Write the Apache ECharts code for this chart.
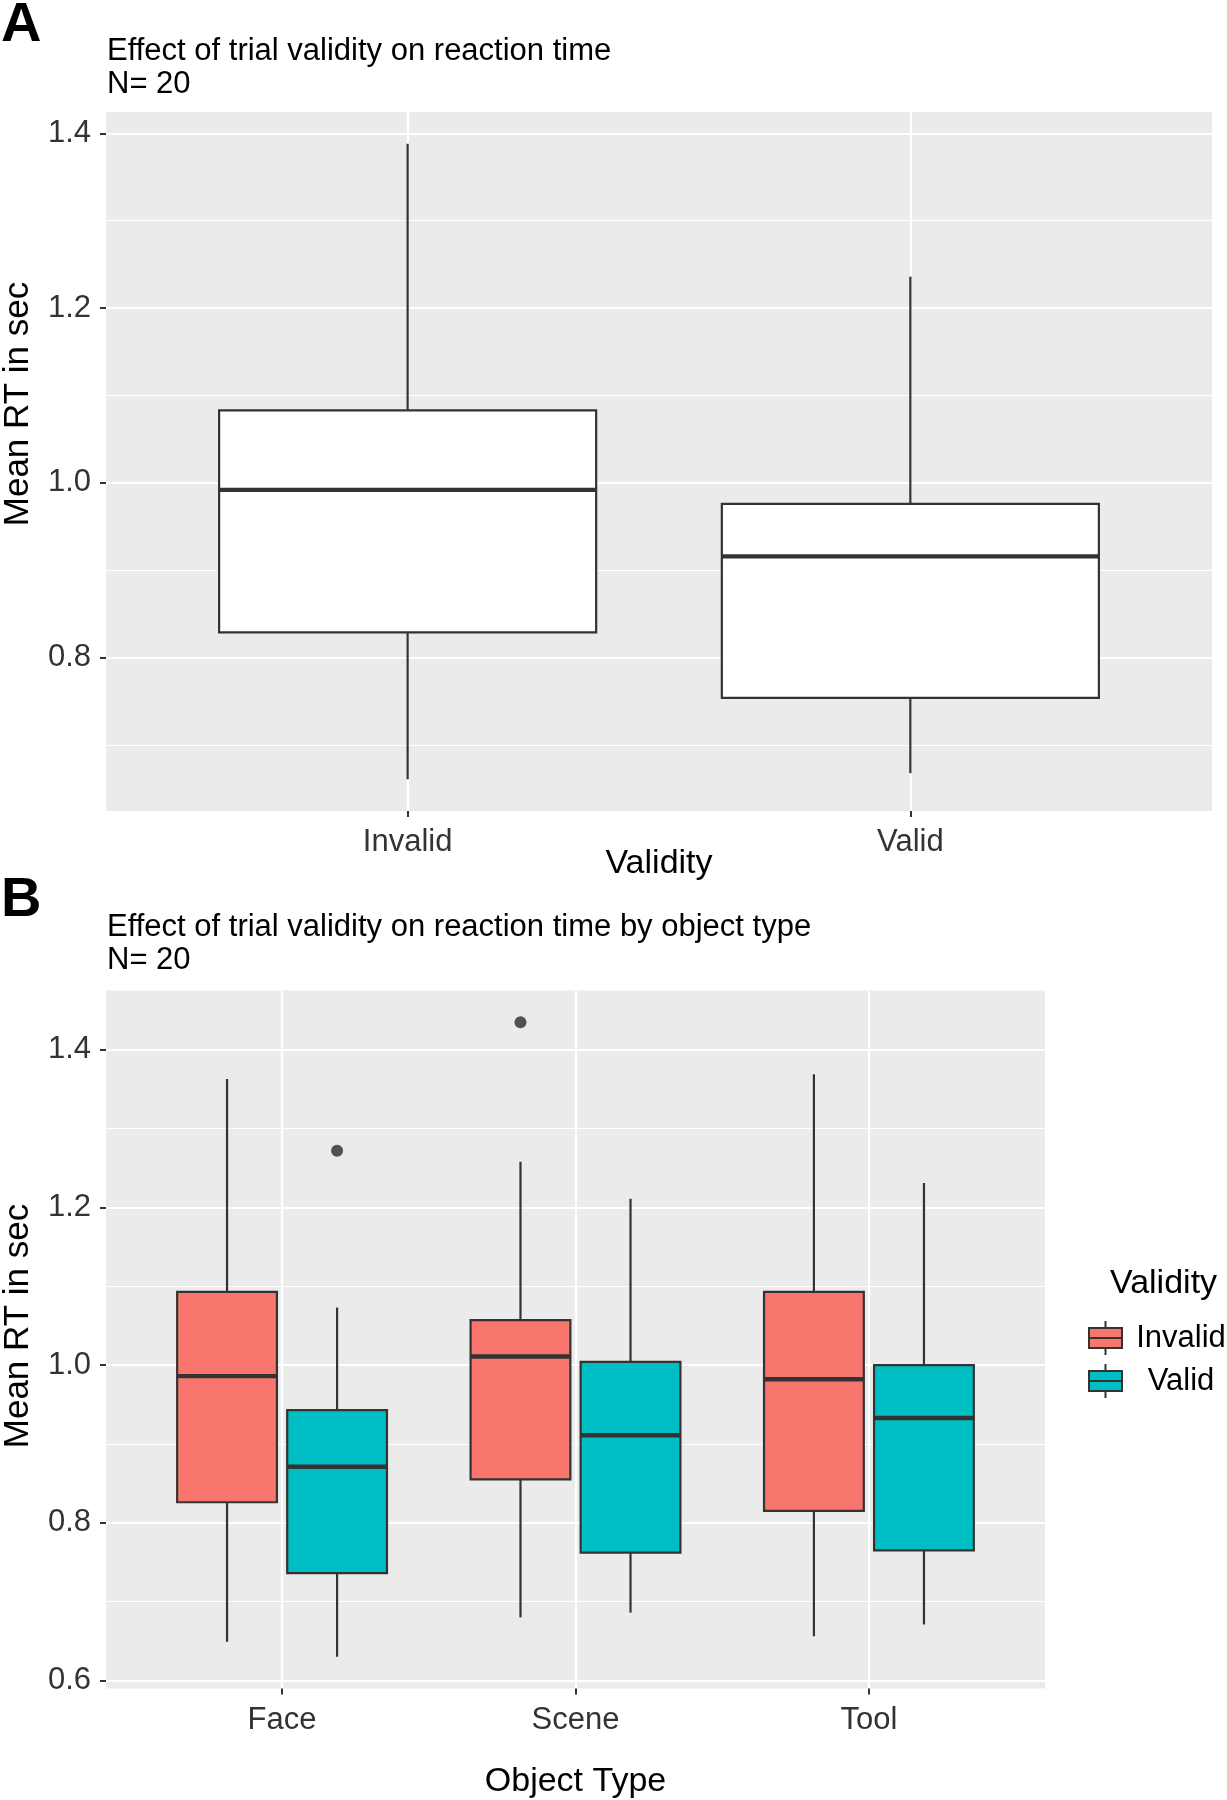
<!DOCTYPE html>
<html>
<head>
<meta charset="utf-8">
<script src="https://cdn.jsdelivr.net/npm/echarts@6/dist/echarts.min.js"></script>
<style>
html,body{margin:0;padding:0;background:#ffffff;}
#chart{width:1227px;height:1800px;}
</style>
</head>
<body>
<div id="chart"></div>
<script>
// ---------------- DATA ----------------
// Panel A: categories and boxes [min, q1, median, q3, max]
const validityCats = ['Invalid', 'Valid'];
const overallBoxes = [
  [0.661, 0.829, 0.992, 1.083, 1.388],
  [0.668, 0.754, 0.916, 0.976, 1.236]
];
// Panel B
const objectCats = ['Face', 'Scene', 'Tool'];
const invalidBoxes = [
  [0.649, 0.826, 0.986, 1.093, 1.363],
  [0.680, 0.855, 1.011, 1.057, 1.258],
  [0.656, 0.815, 0.982, 1.093, 1.369]
];
const validBoxes = [
  [0.630, 0.736, 0.871, 0.943, 1.073],
  [0.686, 0.762, 0.911, 1.004, 1.211],
  [0.671, 0.765, 0.933, 1.000, 1.231]
];
// outliers: [category, value]
const invalidOutliers = [['Scene', 1.435]];
const validOutliers = [['Face', 1.272]];
// tick labels
const yTicksA = [0.8, 1.0, 1.2, 1.4];
const yMinorA = [0.7, 0.9, 1.1, 1.3];
const yTicksB = [0.6, 0.8, 1.0, 1.2, 1.4];
const yMinorB = [0.7, 0.9, 1.1, 1.3];

// ---------------- STYLE / LAYOUT ----------------
const FONT = 'Liberation Sans, Arial, Helvetica, sans-serif';
const COL_INVALID = '#F8766D';
const COL_VALID = '#00BFC4';
const LINE = '#333333';
const TICKTXT = '#333333';
const DODGE = 0.1875;

function expandRange(vals) {
  const lo = Math.min.apply(null, vals), hi = Math.max.apply(null, vals);
  const pad = (hi - lo) * 0.05;
  return [lo - pad, hi + pad];
}
const allA = [].concat.apply([], overallBoxes);
const allB = [].concat.apply([], invalidBoxes.concat(validBoxes))
  .concat(invalidOutliers.map(d => d[1])).concat(validOutliers.map(d => d[1]));
const rangeA = expandRange(allA);
const rangeB = expandRange(allB);

function boxRenderer(halfW) {
  return function (params, api) {
    const x = api.value(0);
    const lo = api.value(1), q1 = api.value(2), med = api.value(3), q3 = api.value(4), hi = api.value(5);
    const tl = api.coord([x - halfW, q3]);
    const br = api.coord([x + halfW, q1]);
    const mL = api.coord([x - halfW, med]);
    const mR = api.coord([x + halfW, med]);
    const top = api.coord([x, hi]);
    const q3c = api.coord([x, q3]);
    const q1c = api.coord([x, q1]);
    const bot = api.coord([x, lo]);
    const fill = api.visual('color');
    return {
      type: 'group',
      children: [
        {type: 'line', shape: {x1: top[0], y1: top[1], x2: q3c[0], y2: q3c[1]}, style: {stroke: LINE, lineWidth: 2.2}},
        {type: 'line', shape: {x1: q1c[0], y1: q1c[1], x2: bot[0], y2: bot[1]}, style: {stroke: LINE, lineWidth: 2.2}},
        {type: 'rect', shape: {x: tl[0], y: tl[1], width: br[0] - tl[0], height: br[1] - tl[1]}, style: {fill: fill, stroke: LINE, lineWidth: 2.2}},
        {type: 'line', shape: {x1: mL[0], y1: mL[1], x2: mR[0], y2: mR[1]}, style: {stroke: LINE, lineWidth: 4.4}}
      ]
    };
  };
}

function xAxisCfg(gridIndex, cats, name, nameGap) {
  const vals = cats.map((c, i) => i + 1);
  return {
    type: 'value', gridIndex: gridIndex, min: 0.4, max: cats.length + 0.6,
    axisLine: {show: false},
    axisTick: {show: true, customValues: vals, length: 6, lineStyle: {color: LINE, width: 2}},
    axisLabel: {customValues: vals, formatter: v => cats[Math.round(v) - 1], fontSize: 31, color: TICKTXT, margin: 16, fontFamily: FONT},
    splitLine: {show: true, lineStyle: {color: '#ffffff', width: 2.2}},
    minorSplitLine: {show: false},
    name: name, nameLocation: 'middle', nameGap: nameGap, nameMoveOverlap: false,
    nameTextStyle: {fontSize: 34, color: '#000000', fontFamily: FONT}
  };
}
function yMajorCfg(gridIndex, range, ticks) {
  return {
    type: 'value', gridIndex: gridIndex, min: range[0], max: range[1],
    axisLine: {show: false},
    axisTick: {show: true, customValues: ticks, length: 6, lineStyle: {color: LINE, width: 2}},
    axisLabel: {customValues: ticks, formatter: v => v.toFixed(1), fontSize: 31, color: TICKTXT, margin: 15, fontFamily: FONT},
    splitLine: {show: true, lineStyle: {color: '#ffffff', width: 2.2}}
  };
}
function yMinorCfg(gridIndex, range, ticks) {
  return {
    type: 'value', gridIndex: gridIndex, min: range[0], max: range[1], position: 'left',
    axisLine: {show: false},
    axisTick: {show: false, customValues: ticks},
    axisLabel: {show: false, customValues: ticks},
    splitLine: {show: true, lineStyle: {color: '#ffffff', width: 1.1}}
  };
}

const iconPath = 'path://M16.5,0V7M0,7H33V27H0ZM16.5,27V34M0,17H33';

const option = {
  animation: false,
  backgroundColor: '#ffffff',
  textStyle: {fontFamily: FONT},
  title: [
    {text: 'A', left: 1, top: -2, padding: 0, textStyle: {fontSize: 56, fontWeight: 'bold', color: '#000', fontFamily: FONT}},
    {text: 'Effect of trial validity on reaction time\nN= 20', left: 107, top: 35, padding: 0,
     textStyle: {fontSize: 31, lineHeight: 33, fontWeight: 'normal', color: '#000', fontFamily: FONT}},
    {text: 'B', left: 1, top: 873, padding: 0, textStyle: {fontSize: 56, fontWeight: 'bold', color: '#000', fontFamily: FONT}},
    {text: 'Effect of trial validity on reaction time by object type\nN= 20', left: 107, top: 911, padding: 0,
     textStyle: {fontSize: 31, lineHeight: 33, fontWeight: 'normal', color: '#000', fontFamily: FONT}},
    {text: 'Validity', left: 1110, top: 1267, padding: 0,
     textStyle: {fontSize: 34, fontWeight: 'normal', color: '#000', fontFamily: FONT}}
  ],
  legend: {
    orient: 'vertical', left: 1088, top: 1320, padding: 0,
    itemWidth: 33, itemHeight: 34, itemGap: 7, selectedMode: false,
    data: [
      {name: 'Invalid', icon: iconPath, itemStyle: {color: COL_INVALID, borderColor: LINE, borderWidth: 2}},
      {name: 'Valid', icon: iconPath, itemStyle: {color: COL_VALID, borderColor: LINE, borderWidth: 2}}
    ],
    formatter: '{t|{name}}',
    textStyle: {fontSize: 31, color: '#000', fontFamily: FONT,
      rich: {t: {width: 108, align: 'center', fontSize: 31, color: '#000', fontFamily: FONT}}}
  },
  grid: [
    {left: 106, top: 112, width: 1106, height: 699, show: true, backgroundColor: '#EBEBEB', borderWidth: 0, containLabel: false, outerBoundsMode: 'none'},
    {left: 106, top: 990.5, width: 939, height: 698, show: true, backgroundColor: '#EBEBEB', borderWidth: 0, containLabel: false, outerBoundsMode: 'none'}
  ],
  xAxis: [
    xAxisCfg(0, validityCats, 'Validity', 36),
    xAxisCfg(1, objectCats, 'Object Type', 76),
    Object.assign(xAxisCfg(1, objectCats, '', 0), {show: false})
  ],
  yAxis: [
    yMajorCfg(0, rangeA, yTicksA),
    yMinorCfg(0, rangeA, yMinorA),
    yMajorCfg(1, rangeB, yTicksB),
    yMinorCfg(1, rangeB, yMinorB)
  ],
  graphic: [
    {type: 'text', x: 18, y: 404, rotation: Math.PI / 2, z: 10,
     style: {text: 'Mean RT in sec', fontSize: 35, fill: '#000', align: 'center', verticalAlign: 'middle', fontFamily: FONT}},
    {type: 'text', x: 18, y: 1326, rotation: Math.PI / 2, z: 10,
     style: {text: 'Mean RT in sec', fontSize: 35, fill: '#000', align: 'center', verticalAlign: 'middle', fontFamily: FONT}}
  ],
  series: [
    {
      name: 'Overall', type: 'custom', xAxisIndex: 0, yAxisIndex: 0,
      itemStyle: {color: '#ffffff'},
      encode: {x: 0, y: [1, 2, 3, 4, 5]},
      renderItem: boxRenderer(0.375),
      data: overallBoxes.map((b, i) => [i + 1].concat(b))
    },
    {
      name: 'Invalid', type: 'custom', xAxisIndex: 1, yAxisIndex: 2,
      itemStyle: {color: COL_INVALID},
      encode: {x: 0, y: [1, 2, 3, 4, 5]},
      renderItem: boxRenderer(0.17),
      data: invalidBoxes.map((b, i) => [i + 1 - DODGE].concat(b))
    },
    {
      name: 'Valid', type: 'custom', xAxisIndex: 2, yAxisIndex: 2,
      itemStyle: {color: COL_VALID},
      encode: {x: 0, y: [1, 2, 3, 4, 5]},
      renderItem: boxRenderer(0.17),
      data: validBoxes.map((b, i) => [i + 1 + DODGE].concat(b))
    },
    {
      name: 'Invalid outliers', type: 'scatter', xAxisIndex: 1, yAxisIndex: 2,
      symbol: 'circle', symbolSize: 12, itemStyle: {color: '#2b2b2b'}, z: 5,
      data: invalidOutliers.map(d => [objectCats.indexOf(d[0]) + 1 - DODGE, d[1]])
    },
    {
      name: 'Valid outliers', type: 'scatter', xAxisIndex: 2, yAxisIndex: 2,
      symbol: 'circle', symbolSize: 12, itemStyle: {color: '#2b2b2b'}, z: 5,
      data: validOutliers.map(d => [objectCats.indexOf(d[0]) + 1 + DODGE, d[1]])
    }
  ]
};

const chart = echarts.init(document.getElementById('chart'), null, {renderer: 'canvas'});
chart.setOption(option);
</script>
</body>
</html>
